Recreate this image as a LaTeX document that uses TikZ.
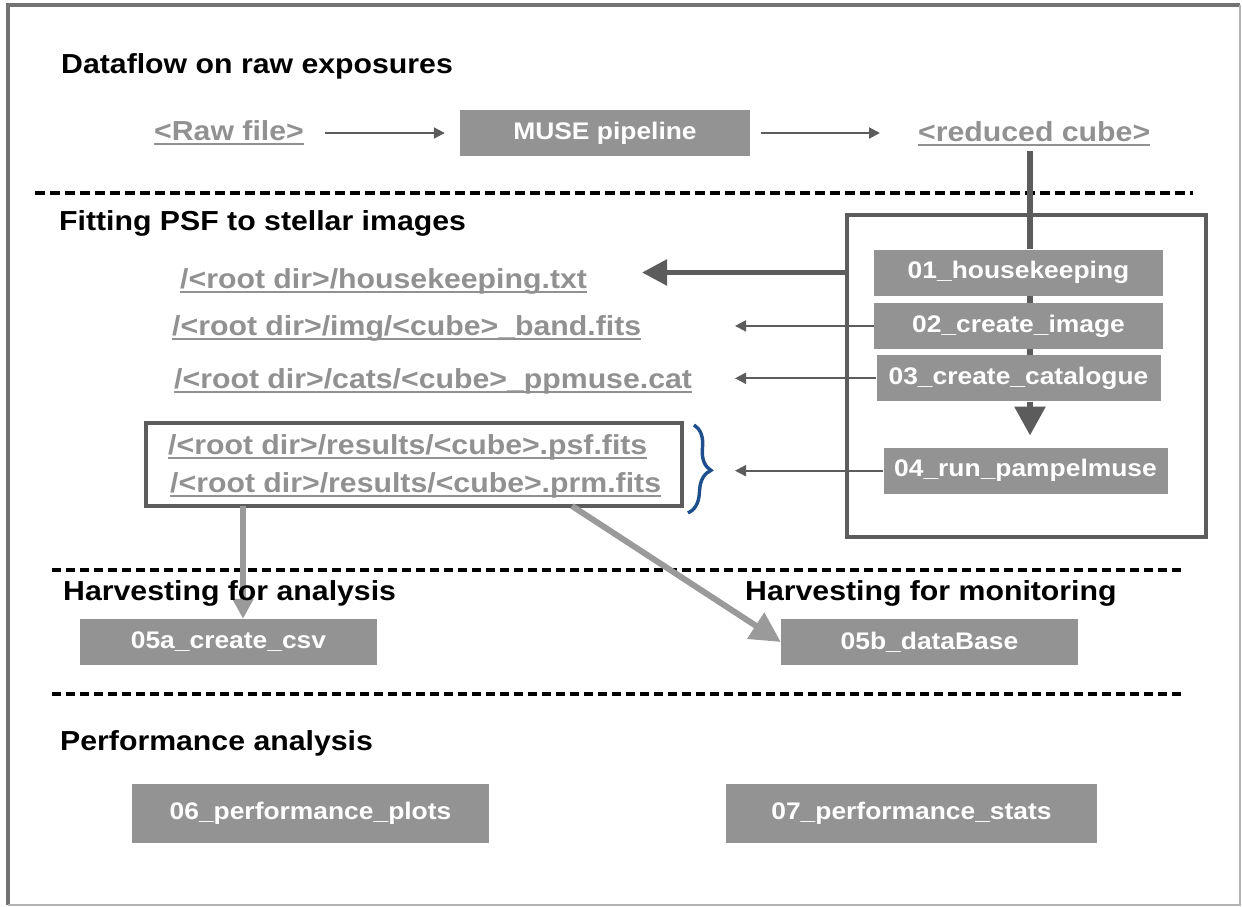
\documentclass[tikz,border=0pt]{standalone}
\usepackage{fontspec}
\setmainfont{Liberation Sans}[FakeStretch=1.1]
\usetikzlibrary{positioning,arrows.meta,decorations.pathreplacing}
\definecolor{boxgray}{HTML}{939393}
\definecolor{pathgray}{HTML}{919191}
\definecolor{linegray}{HTML}{5C5C5C}
\definecolor{arrowgray}{HTML}{9A9A9A}
\definecolor{bracecol}{HTML}{1F4E8C}
\newcommand{\fileul}[1]{\setbox0\hbox{#1}\rlap{\rule[-4.5pt]{\wd0}{2pt}}\box0}
\tikzset{%
  stage/.style   = { fill = boxgray, text = white, inner sep = 0pt, minimum height = 46pt,
                     font = \bfseries\fontsize{24}{28}\selectfont },
  file/.style    = { text = pathgray, inner sep = 0pt, anchor = base west,
                     font = \bfseries\fontsize{27.5}{31}\selectfont },
  heading/.style = { text = black, inner sep = 0pt, anchor = base west,
                     font = \bfseries\fontsize{27.5}{31}\selectfont },
  group/.style   = { draw = linegray, line width = 4.5pt, inner sep = 0pt },
  flow/.style    = { -{Triangle[length=11pt,width=11pt]}, line width = 2pt, draw = linegray },
  chain/.style   = { line width = 6pt, draw = linegray },
  feed/.style    = { -{Triangle[length=#1,width=#1]}, line width = 6pt, draw = arrowgray },
  divider/.style = { line width = 4pt, dash pattern = on 10pt off 5pt }
}

\begin{document}
\begin{tikzpicture}[x=1pt, y=-1pt]
  \useasboundingbox (0,0) rectangle (1242,907);
  % frame
  \draw[black!55, line width=4pt] (8,905) -- (8,5) -- (1240,5);
  \draw[black!30, line width=1.5pt] (8,905) -- (1240,905) -- (1240,5);
  % separators
  \draw[divider] (35,193) -- (1193,193);
  \draw[divider, line width=3.5pt, dash pattern=on 9pt off 5pt] (52,570) -- (1185,570);
  \draw[divider, line width=3.5pt, dash pattern=on 9pt off 5pt] (52,694) -- (1185,694);

  % raw exposures
  \node(raw)[file] at (154,140) {\fileul{<Raw file>}};
  \node(muse)[stage, minimum width=290pt] at (605,133) {MUSE pipeline};
  \node(cube)[file] at (918,141) {\fileul{<reduced cube>}};
  \draw[flow, shorten <=21pt, shorten >=15pt] (raw.east |- muse.west) -- (muse.west);
  \draw[flow, shorten <=11pt, shorten >=38pt] (muse.east) -- (cube.west |- muse.east);

  % psf fitting
  \node(psfbox)[group, minimum width=359pt, minimum height=322pt] at (1026.5,376) {};
  \node(h01)[stage, minimum width=289pt] at (1018.5,272.5) {01\_housekeeping};
  \node(i02)[stage, minimum width=289pt, below = 7pt of h01] {02\_create\_image};
  \node(c03)[stage, minimum width=284pt, below = 6pt of i02] {03\_create\_catalogue};
  \node(p04)[stage, minimum width=284pt, below = 46pt of c03, xshift=7pt] {04\_run\_pampelmuse};

  \node(hk)[file] at (180,288) {\fileul{/<root dir>/housekeeping.txt}};
  \node(img)[file] at (172,335) {\fileul{/<root dir>/img/<cube>\_band.fits}};
  \node(cat)[file] at (174,388) {\fileul{/<root dir>/cats/<cube>\_ppmuse.cat}};
  \node(psf)[file] at (168,454) {\fileul{/<root dir>/results/<cube>.psf.fits}};
  \node(prm)[file] at (170,492) {\fileul{/<root dir>/results/<cube>.prm.fits}};
  \node(resbox)[group, line width=4pt, minimum width=536pt, minimum height=83pt] at (414,464.5) {};
  \draw[bracecol, line width=3.4pt, decorate, decoration={brace, amplitude=20pt}] (694,425) -- (688,513);

  \coordinate (cubedrop) at (1030,151);
  \coordinate (hktip) at (642,0);
  \coordinate (tipcol) at (735,0);
  \draw[chain] (cubedrop) -- (cubedrop |- h01.north);
  \draw[chain] (h01.south -| cubedrop) -- (i02.north -| cubedrop);
  \draw[chain] (i02.south -| cubedrop) -- (c03.north -| cubedrop);
  \draw[chain, -{Triangle[length=29pt,width=30pt]}, shorten >=12pt] (c03.south -| cubedrop) -- (p04.north -| cubedrop);
  \draw[chain, line width=5.5pt, -{Triangle[length=25pt,width=25pt]}] (psfbox.west |- h01) -- (hktip |- h01);
  \draw[flow] (i02.west) -- (tipcol |- i02.west);
  \draw[flow] (c03.west) -- (tipcol |- c03.west);
  \draw[flow] (p04.west) -- (tipcol |- p04.west);

  % harvesting
  \node(csv)[stage, minimum width=297pt] at (228.5,642) {05a\_create\_csv};
  \node(db)[stage, minimum width=297pt] at (929.5,642) {05b\_dataBase};
  \coordinate (csvdrop) at (243,506);
  \coordinate (dbdrop) at (572,506);
  \draw[feed=20pt] (csvdrop) -- (csvdrop |- csv.north);
  \draw[feed=30pt] (dbdrop) -- (db.west);

  % performance
  \node(plots)[stage, minimum width=357pt, minimum height=59pt] at (310.5,813.5) {06\_performance\_plots};
  \node(stats)[stage, minimum width=371pt, minimum height=59pt] at (911.5,813.5) {07\_performance\_stats};

  % headings
  \node(t1)[heading] at (61,74) {Dataflow on raw exposures};
  \node(t2)[heading] at (59,230) {Fitting PSF to stellar images};
  \node(t3)[heading] at (63,600) {Harvesting for analysis};
  \node(t4)[heading] at (745,600) {Harvesting for monitoring};
  \node(t5)[heading] at (60,750) {Performance analysis};
\end{tikzpicture}
\end{document}
